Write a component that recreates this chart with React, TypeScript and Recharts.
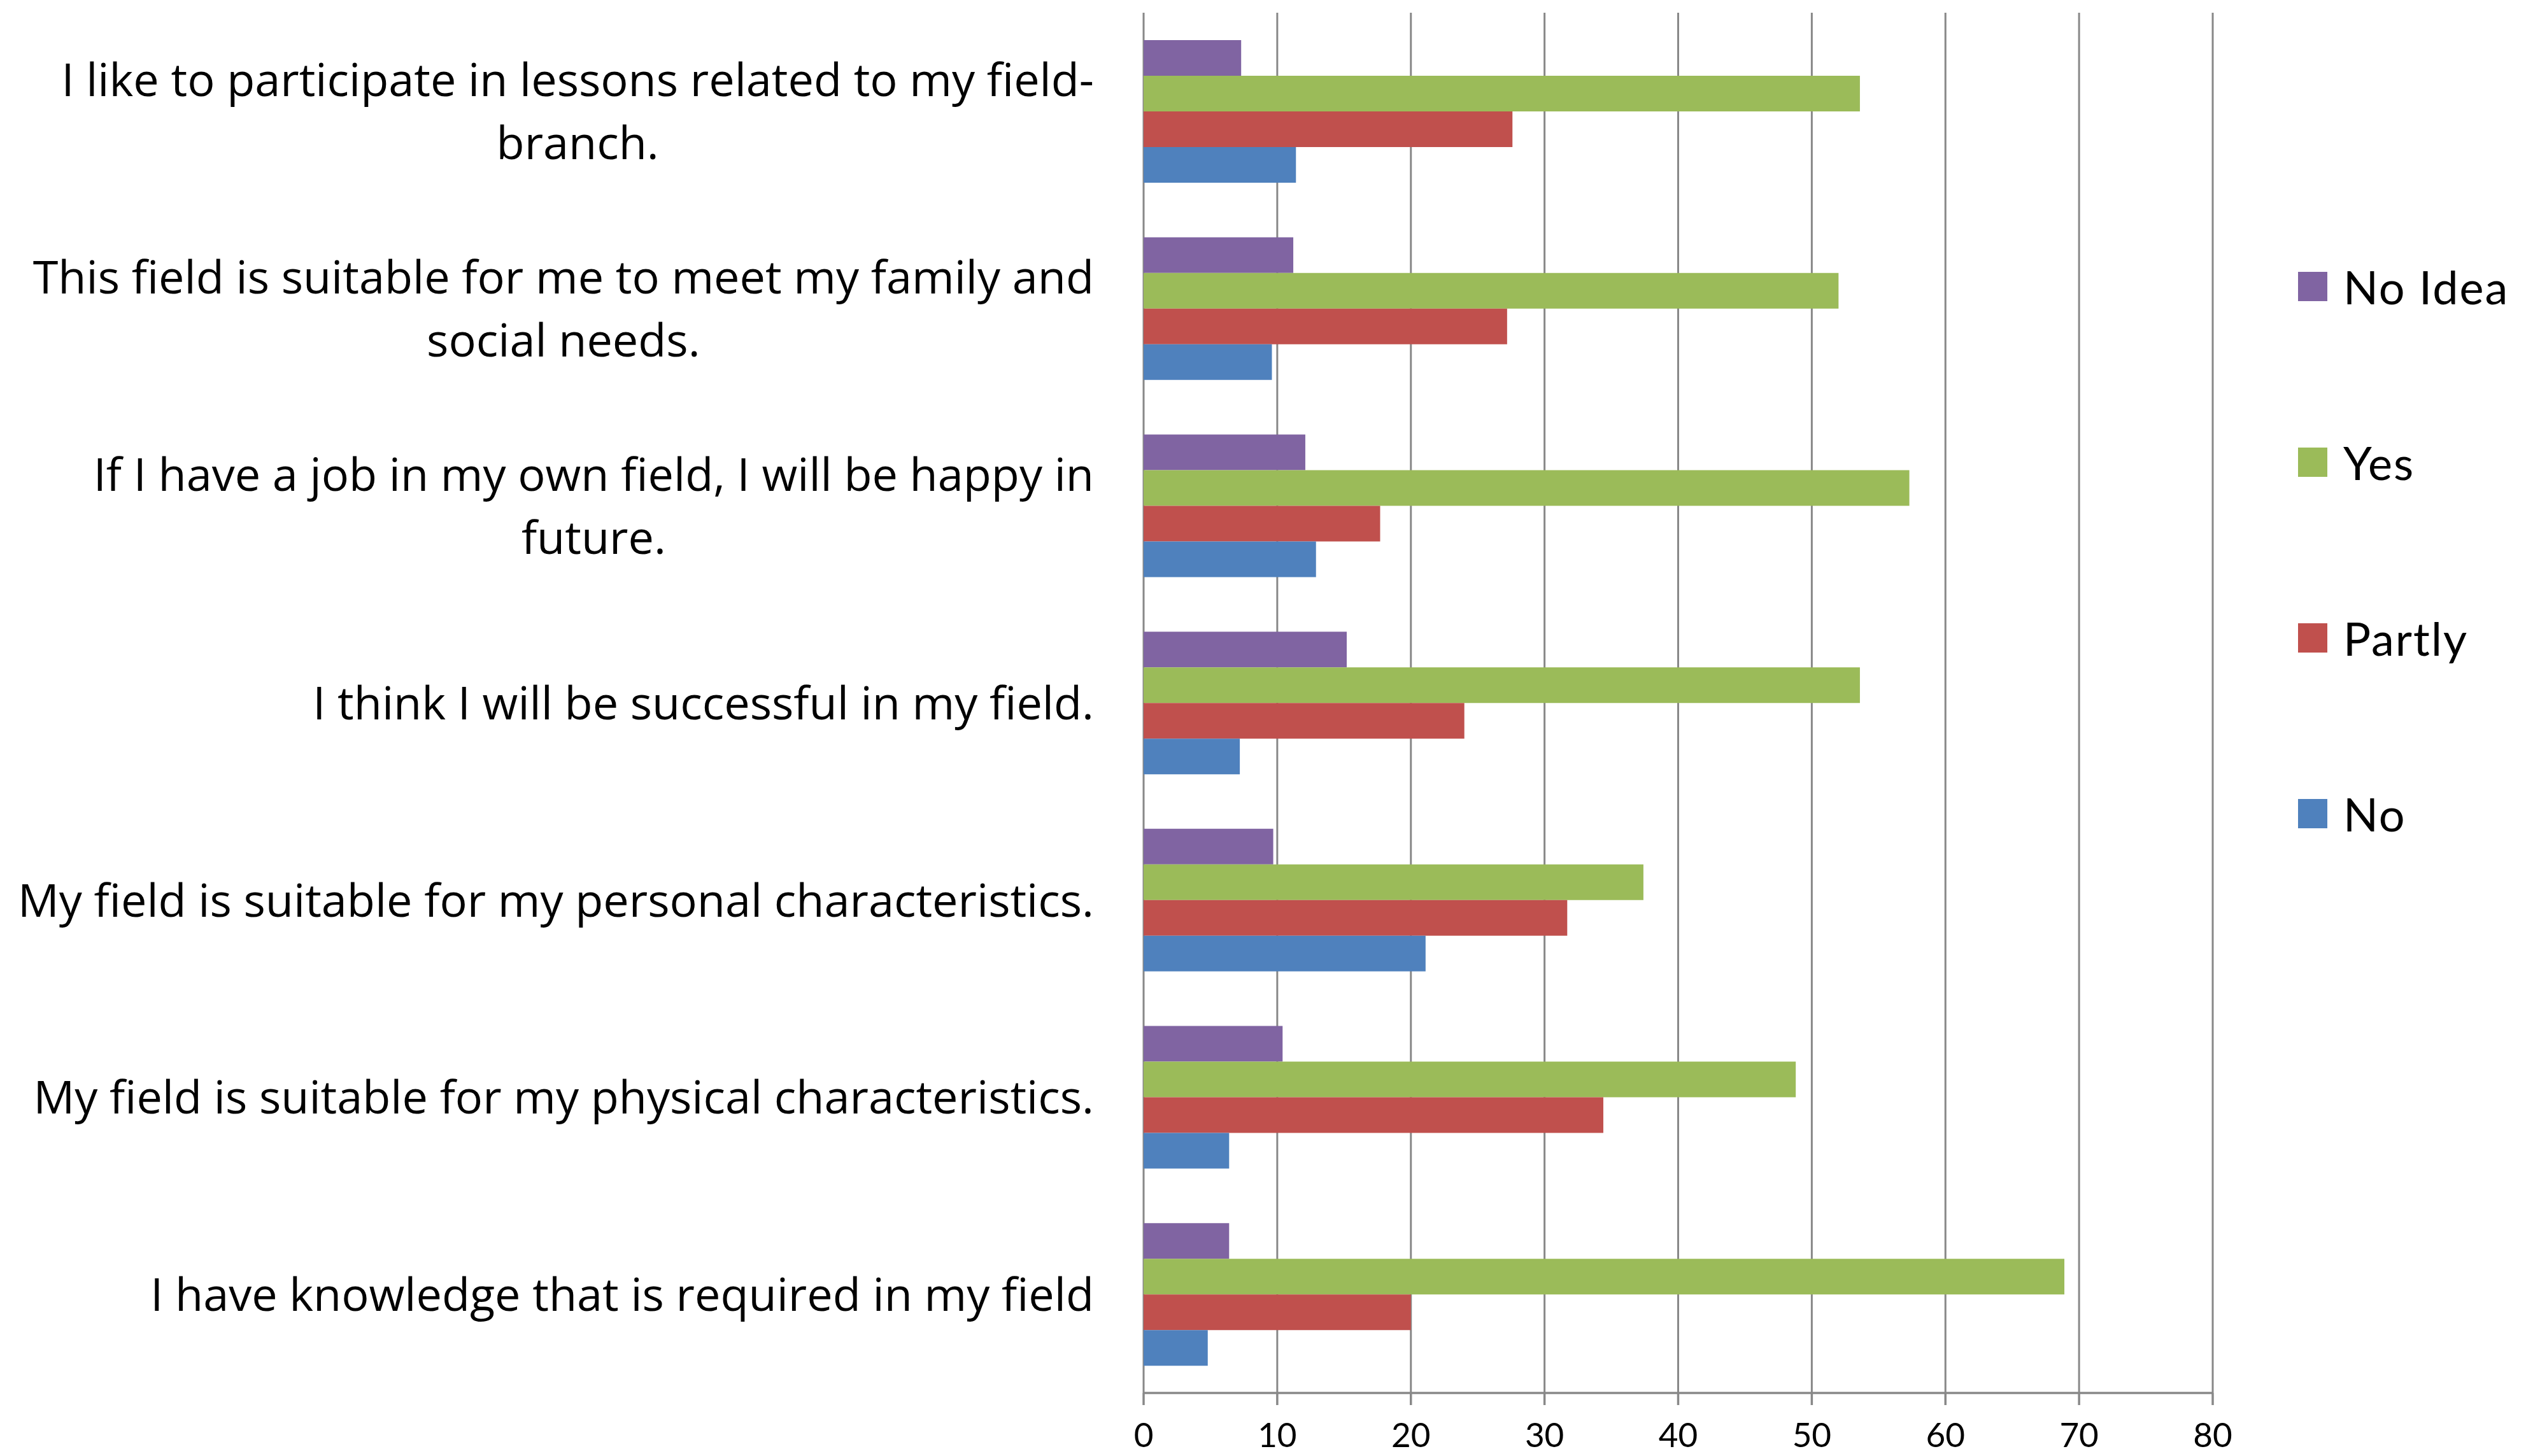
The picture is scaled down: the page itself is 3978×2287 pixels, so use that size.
import { Bar, BarChart, CartesianGrid, XAxis, YAxis } from "recharts";

const categories = [
  "I like to participate in lessons related to my field-\nbranch.",
  "This field is suitable for me to meet my family and\nsocial needs.",
  "If I have a job in my own field, I will be happy in\nfuture.",
  "I think I will be successful in my field.",
  "My field is suitable for my personal characteristics.",
  "My field is suitable for my physical characteristics.",
  "I have knowledge that is required in my field",
];

const noIdea = [7.3, 11.2, 12.1, 15.2, 9.7, 10.4, 6.4];
const yes = [53.6, 52.0, 57.3, 53.6, 37.4, 48.8, 68.9];
const partly = [27.6, 27.2, 17.7, 24.0, 31.7, 34.4, 20.0];
const no = [11.4, 9.6, 12.9, 7.2, 21.1, 6.4, 4.8];

const xTicks = [0, 10, 20, 30, 40, 50, 60, 70, 80];
const edgeTicks = [0, 1, 2, 3, 4, 5, 6, 7];

// drawn top to bottom inside each group, same order as the legend
const series = [
  { key: "noIdea", name: "No Idea", color: "#8064A2" },
  { key: "yes", name: "Yes", color: "#9BBB59" },
  { key: "partly", name: "Partly", color: "#C0504D" },
  { key: "no", name: "No", color: "#4F81BD" },
];

const data = categories.map((c, i) => ({
  cat: c,
  noIdea: noIdea[i],
  yes: yes[i],
  partly: partly[i],
  no: no[i],
}));

const FONT = "'Open Sans', Lato, sans-serif";
const LABEL_SIZE = 72;
const LINE_H = 99;
const GRID = "#888888";

let ctx: CanvasRenderingContext2D | null = null;
function textWidth(s: string) {
  if (!ctx) ctx = document.createElement("canvas").getContext("2d");
  if (!ctx) return s.length * LABEL_SIZE * 0.5;
  ctx.font = `${LABEL_SIZE}px 'Open Sans'`;
  return ctx.measureText(s).width;
}

function CategoryTick({ x, y, payload }: any) {
  const lines: string[] = String(payload.value).split("\n");
  const top = y - ((lines.length - 1) * LINE_H) / 2;
  const blockW = Math.max(...lines.map(textWidth));
  const cx = x - blockW / 2;
  return (
    <g>
      {lines.map((l, i) => (
        <text
          key={i}
          x={lines.length > 1 ? cx : x}
          y={top + i * LINE_H}
          dy="0.36em"
          textAnchor={lines.length > 1 ? "middle" : "end"}
          fontFamily={FONT}
          fontSize={LABEL_SIZE}
          fill="#000"
        >
          {l}
        </text>
      ))}
    </g>
  );
}

function LegendBox() {
  return (
    <div style={{ position: "absolute", left: 3609, top: 312, width: 369 }}>
      {series.map((s) => (
        <div key={s.key} style={{ height: 276, display: "flex", alignItems: "center" }}>
          <span style={{ width: 46, height: 46, background: s.color, display: "inline-block" }} />
          <span
            style={{
              marginLeft: 25,
              fontFamily: "Lato, sans-serif",
              fontSize: 72,
              letterSpacing: 2,
              color: "#000",
            }}
          >
            {s.name}
          </span>
        </div>
      ))}
    </div>
  );
}

export default function App() {
  return (
    <div style={{ position: "relative", width: 3978, height: 2287, background: "#fff" }}>
      <style>{`body{margin:0}`}</style>
      <BarChart
        width={3978}
        height={2287}
        data={data}
        layout="vertical"
        margin={{ top: 20, right: 503, bottom: 0, left: 0 }}
        barSize={56}
        barGap={0}
      >
        <CartesianGrid horizontal={false} stroke={GRID} strokeWidth={3} />
        <YAxis
          yAxisId="edges"
          type="number"
          orientation="left"
          domain={[0, 7]}
          ticks={edgeTicks}
          allowDataOverflow
          width={0}
          tick={false}
          tickSize={26}
          axisLine={{ stroke: GRID, strokeWidth: 3.5 }}
          tickLine={{ stroke: GRID, strokeWidth: 3.5 }}
        />
        <YAxis
          type="category"
          dataKey="cat"
          width={1796}
          axisLine={false}
          tickLine={false}
          tickSize={0}
          tickMargin={78}
          interval={0}
          tick={<CategoryTick />}
        />
        <XAxis
          type="number"
          domain={[0, 80]}
          ticks={xTicks}
          height={99}
          tickSize={19}
          tickMargin={28}
          axisLine={{ stroke: GRID, strokeWidth: 3.5 }}
          tickLine={{ stroke: GRID, strokeWidth: 3.5 }}
          tick={{ fill: "#000", fontSize: 53, fontFamily: "Lato, sans-serif" }}
        />
        {series.map((s) => (
          <Bar key={s.key} dataKey={s.key} name={s.name} fill={s.color} isAnimationActive={false} />
        ))}
      </BarChart>
      <LegendBox />
    </div>
  );
}
